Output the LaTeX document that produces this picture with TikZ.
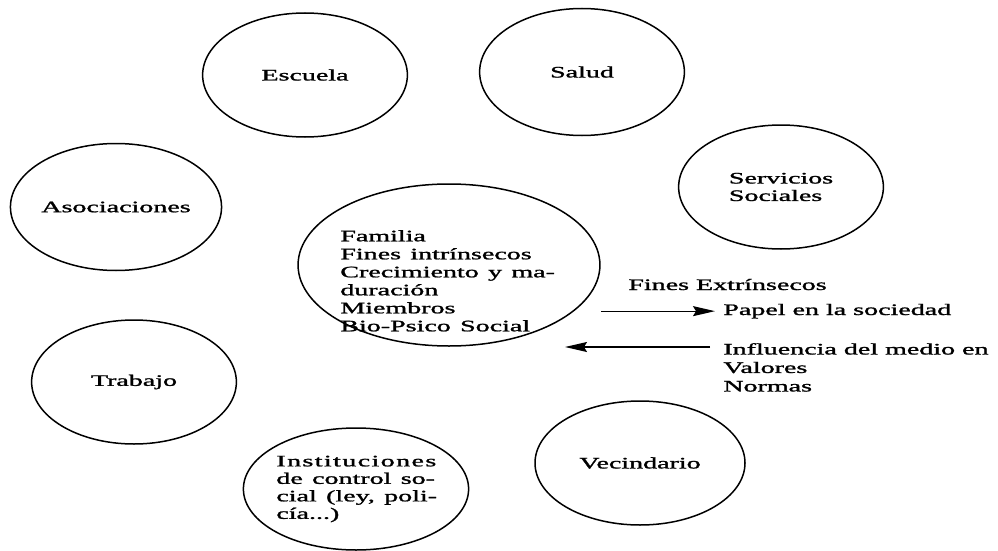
\documentclass[tikz,border=0pt]{standalone}
\usepackage{fontspec}
\setmainfont{Liberation Serif}[FakeBold=1.2]
\usetikzlibrary{shapes.geometric, arrows.meta}
\tikzset{>={Stealth[length=22pt, width=10pt, inset=3pt]}}
\tikzset{
  bubble/.style={ellipse, draw, line width=1.5pt, xscale=1.75,
    minimum width=117pt, minimum height=124pt, inner sep=0pt,
    font=\fontsize{16}{17.5}\selectfont, align=center},
  txt/.style={xscale=1.75, inner sep=0pt, anchor=base west,
    font=\fontsize{16}{17.5}\selectfont, align=left},
  flow/.style={->, line width=1.3pt}
}

\begin{document}
\begin{tikzpicture}[x=1pt, y=-1pt]
    \useasboundingbox (0,0) rectangle (998,551);
    % the circles round the family
    \node[bubble] (escuela) at (305,75) {Escuela};
    \node[bubble, minimum height=127pt] (salud) at (582,72) {Salud};
    \node[bubble, align=left] (servicios) at (781,187) {Servicios\\Sociales};
    \node[bubble, minimum height=127pt] (asociaciones) at (116,207) {Asociaciones};
    \node[bubble] (trabajo) at (134,382) {Trabajo};
    \node[bubble, minimum width=112pt, minimum height=122pt, text width=91pt, align=left]
        (instituciones) at (356,489)
        {{\addfontfeature{LetterSpace=5}Instituciones}\\
         \makebox[91pt][s]{de control so-}\\
         \makebox[91pt][s]{cial (ley, poli-}\\
         cía...)};
    \node[bubble, minimum width=120pt] (vecindario) at (640,463) {Vecindario};
    % the family
    \node[bubble, minimum width=172.5pt, minimum height=162pt] (familia) at (449,265) {};
    \node[txt, anchor=north west, text width=131pt, font=\fontsize{16}{18}\selectfont]
        (famtxt) at (340,230)
        {Familia\\
         Fines intrínsecos\\
         \makebox[131pt][s]{Crecimiento y ma-}\\
         duración\\
         Miembros\\
         Bio-Psico Social};
    % ends
    \node[txt] (fines) at (628,290) {Fines Extrínsecos};
    \node[txt] (papel) at (723,315) {Papel en la sociedad};
    \node[txt, anchor=north west, font=\fontsize{16}{18.5}\selectfont] (influencia) at (723,343)
        {Influencia del medio en\\Valores\\Normas};
    \coordinate (medioin) at (710,347);
    \coordinate (medioout) at (565,347);
    \draw[flow] (familia.east |- papel.west) -- ([xshift=-8pt]papel.west);
    \draw[flow] (medioin) -- (medioout);
\end{tikzpicture}
\end{document}
